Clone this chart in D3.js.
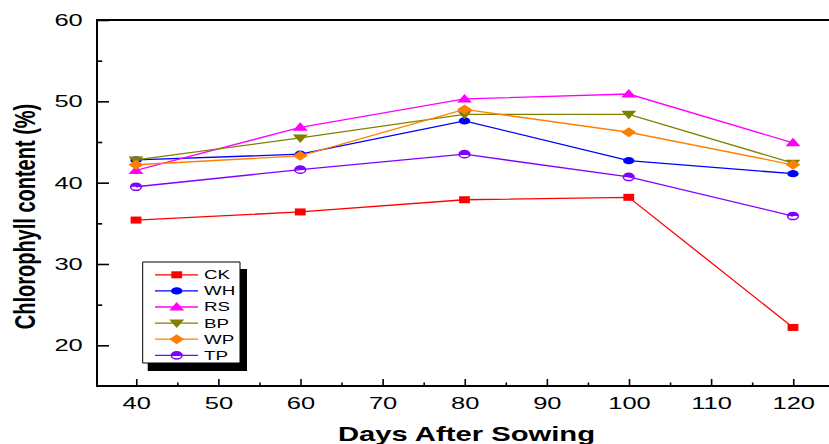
<!DOCTYPE html>
<html><head><meta charset="utf-8">
<script src="https://cdn.jsdelivr.net/npm/d3@7"></script>
<style>
html,body{margin:0;padding:0;background:#fff;}
svg{display:block;}
.ns{vector-effect:non-scaling-stroke;}
</style></head>
<body>
<svg id="chart" width="829" height="444"></svg>
<script>
// ---- data ----
const days = [40, 60, 80, 100, 120];
const seriesNames = ["CK", "WH", "RS", "BP", "WP", "TP"];
const CK = [35.4, 36.4, 37.9, 38.2, 22.2];
const WH = [42.8, 43.5, 47.6, 42.7, 41.1];
const RS = [41.5, 46.8, 50.3, 50.9, 44.9];
const BP = [42.8, 45.5, 48.4, 48.4, 42.4];
const WP = [42.2, 43.3, 49.0, 46.2, 42.2];
const TP = [39.5, 41.6, 43.5, 40.7, 35.9];
const colors = ["#ff0000", "#0000ff", "#ff00ff", "#808000", "#ff8000", "#8000ff"];
const symbols = ["square", "circle", "triangle", "triangleDown", "diamond", "halfCircle"];
const xTicks = [40, 50, 60, 70, 80, 90, 100, 110, 120];
const xMinor = [45, 55, 65, 75, 85, 95, 105, 115];
const yTicks = [20, 30, 40, 50, 60];
const yMinor = [25, 35, 45, 55];
const allSeries = [CK, WH, RS, BP, WP, TP];

(function () {
// ---- layout ----
const SX = 1.5; // horizontal stretch of the original picture
const svg = d3.select("#chart");
const g = svg.append("g").attr("transform", `scale(${SX},1)`);
const font = "'Liberation Sans', Arial, sans-serif";

const pL = 97 / SX, pR = 832 / SX, pT = 20, pB = 386;
const x = d3.scaleLinear().domain([35.25, 124.75]).range([pL, pR]);
const y = d3.scaleLinear().domain([15, 60]).range([pB, pT]);

// frame
g.append("rect").attr("class", "ns")
  .attr("x", pL).attr("y", pT).attr("width", pR - pL).attr("height", pB - pT)
  .attr("fill", "none").attr("stroke", "#000").attr("stroke-width", 2);

function styleAxis(sel, fs) {
  sel.select(".domain").remove();
  sel.selectAll("line").attr("class", "ns").attr("stroke", "#000").attr("stroke-width", 1.6);
  sel.selectAll("text").attr("font-family", font).attr("font-size", fs).attr("fill", "#000");
}

// y axis
const yAx = g.append("g").attr("transform", `translate(${pL},0)`)
  .call(d3.axisLeft(y).tickValues(yTicks).tickSize(-8).tickPadding(9.5).tickFormat(d3.format("d")));
styleAxis(yAx, 17);
const yAxm = g.append("g").attr("transform", `translate(${pL},0)`)
  .call(d3.axisLeft(y).tickValues(yMinor).tickSize(-3.5).tickFormat(""));
styleAxis(yAxm, 17);

// x axis
const xAx = g.append("g").attr("transform", `translate(0,${pB})`)
  .call(d3.axisBottom(x).tickValues(xTicks).tickSize(-7).tickPadding(11).tickFormat(d3.format("d")));
styleAxis(xAx, 17);
const xAxm = g.append("g").attr("transform", `translate(0,${pB})`)
  .call(d3.axisBottom(x).tickValues(xMinor).tickSize(-3.5).tickFormat(""));
styleAxis(xAxm, 17);

// titles
g.append("text")
  .attr("x", 466.5 / SX).attr("y", 441.5)
  .attr("text-anchor", "middle").attr("font-family", font).attr("font-weight", "bold")
  .attr("font-size", 19.5).text("Days After Sowing");
g.append("text")
  .attr("transform", `translate(23.3,216.5) rotate(-90)`)
  .attr("text-anchor", "middle").attr("font-family", font).attr("font-weight", "bold")
  .attr("font-size", 20).text("Chlorophyll content (%)");

// marker drawing
function drawMarker(sel, sym, color, cx, cy) {
  const m = sel.append("g").attr("transform", `translate(${cx},${cy})`);
  if (sym === "square") {
    m.append("rect").attr("x", -3.6).attr("y", -3.5).attr("width", 7.2).attr("height", 7).attr("fill", color);
  } else if (sym === "circle") {
    m.append("ellipse").attr("rx", 3.8).attr("ry", 3.6).attr("fill", color);
  } else if (sym === "triangle") {
    m.append("path").attr("d", "M0,-5L5,3.5L-5,3.5Z").attr("fill", color);
  } else if (sym === "triangleDown") {
    m.append("path").attr("d", "M0,5L5,-3.5L-5,-3.5Z").attr("fill", color);
  } else if (sym === "diamond") {
    m.append("path").attr("d", "M0,-5L5,0L0,5L-5,0Z").attr("fill", color);
  } else if (sym === "halfCircle") {
    m.append("path").attr("d", "M-3.6,0A3.6,3.6 0 0 1 3.6,0Z").attr("fill", color);
    m.append("ellipse").attr("class", "ns").attr("rx", 3.6).attr("ry", 3.6)
      .attr("fill", "none").attr("stroke", color).attr("stroke-width", 1.5);
  }
}

// series
const line = d3.line().x((d, i) => x(days[i])).y(d => y(d));
allSeries.forEach((vals, k) => {
  const sg = g.append("g");
  sg.append("path").datum(vals).attr("class", "ns").attr("d", line)
    .attr("fill", "none").attr("stroke", colors[k]).attr("stroke-width", 1.3);
  vals.forEach((v, i) => drawMarker(sg, symbols[k], colors[k], x(days[i]), y(v)));
});

// legend
const lx0 = 142.7 / SX, lx1 = 240 / SX, ly0 = 262, ly1 = 363;
const lg = g.append("g");
lg.append("rect").attr("x", lx0 + 5 / SX).attr("y", ly0 + 7)
  .attr("width", lx1 - lx0 + 2 / SX).attr("height", ly1 - ly0 + 1).attr("fill", "#000");
lg.append("rect").attr("class", "ns").attr("x", lx0).attr("y", ly0)
  .attr("width", lx1 - lx0).attr("height", ly1 - ly0)
  .attr("fill", "#fff").attr("stroke", "#000").attr("stroke-width", 1);
seriesNames.forEach((name, k) => {
  const yy = 274.8 + k * 16.1;
  lg.append("line").attr("class", "ns")
    .attr("x1", 155 / SX).attr("x2", 198 / SX).attr("y1", yy).attr("y2", yy)
    .attr("stroke", colors[k]).attr("stroke-width", 1.3);
  drawMarker(lg, symbols[k], colors[k], 176.7 / SX, yy);
  lg.append("text").attr("x", 204 / SX).attr("y", yy).attr("dy", "0.36em")
    .attr("font-family", font).attr("font-size", 12.5).text(name);
});
})();
</script>
</body></html>
